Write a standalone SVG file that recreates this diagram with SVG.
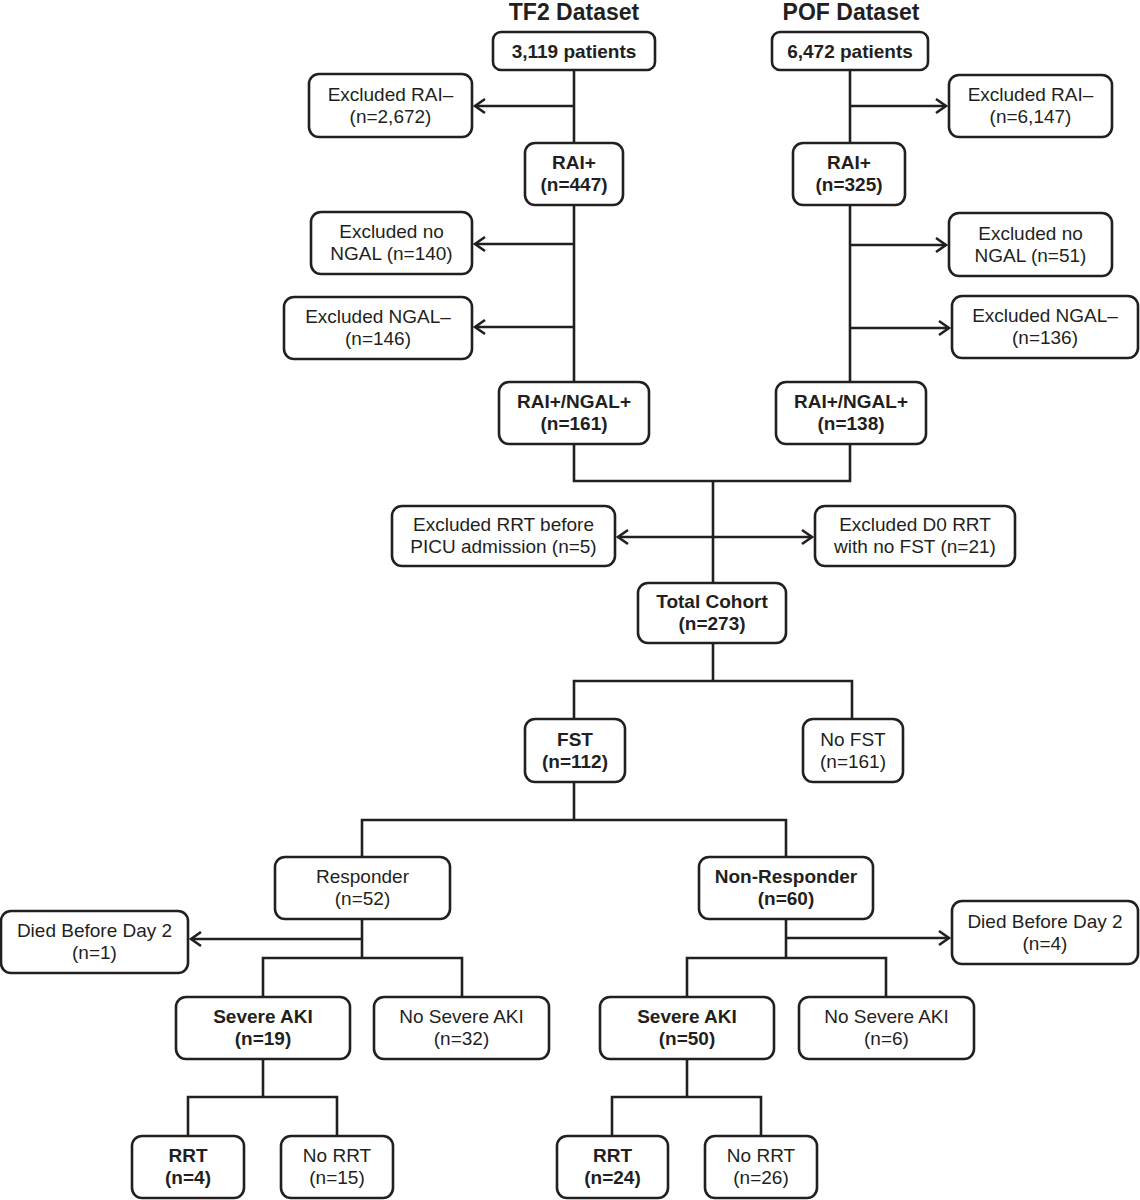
<svg xmlns="http://www.w3.org/2000/svg" width="1140" height="1200" viewBox="0 0 1140 1200">
<defs>
<marker id="arr" markerUnits="userSpaceOnUse" markerWidth="20" markerHeight="20" viewBox="-12 -10 14 20" refX="0" refY="0" orient="auto">
<path d="M-10,-7 L0,0 L-10,7" fill="none" stroke="#231f20" stroke-width="2.6" stroke-linejoin="miter"/>
</marker>
</defs>
<style>
rect{fill:#fff;stroke:#231f20;stroke-width:2.6}
text{font-family:"Liberation Sans",Arial,sans-serif;font-size:19px;fill:#231f20;text-anchor:middle}
.b{font-weight:bold}
.t{font-weight:bold;font-size:23px}
#connectors path,#connectors line{fill:none;stroke:#231f20;stroke-width:2.6}
</style>
<rect x="0" y="0" width="1140" height="1200" style="fill:#fff;stroke:none"/>
<g id="connectors">
<line x1="574" y1="70" x2="574" y2="143"/>
<line x1="574" y1="106" x2="475" y2="106" marker-end="url(#arr)"/>
<line x1="574" y1="205" x2="574" y2="382"/>
<line x1="574" y1="244" x2="475" y2="244" marker-end="url(#arr)"/>
<line x1="574" y1="327" x2="475" y2="327" marker-end="url(#arr)"/>
<line x1="850" y1="70" x2="850" y2="143"/>
<line x1="850" y1="106" x2="946" y2="106" marker-end="url(#arr)"/>
<line x1="850" y1="205" x2="850" y2="382"/>
<line x1="850" y1="245" x2="946" y2="245" marker-end="url(#arr)"/>
<line x1="850" y1="328" x2="949" y2="328" marker-end="url(#arr)"/>
<path d="M574,444 V481 H850 V444"/>
<line x1="713" y1="481" x2="713" y2="583"/>
<line x1="713" y1="537" x2="618" y2="537" marker-end="url(#arr)"/>
<line x1="713" y1="537" x2="812" y2="537" marker-end="url(#arr)"/>
<line x1="713" y1="643" x2="713" y2="681"/>
<path d="M574,719 V681 H852 V719"/>
<line x1="574" y1="782" x2="574" y2="820"/>
<path d="M362,857 V820 H786 V857"/>
<line x1="362" y1="919" x2="362" y2="958"/>
<line x1="362" y1="939" x2="191" y2="939" marker-end="url(#arr)"/>
<path d="M263,997 V958 H462 V997"/>
<line x1="786" y1="919" x2="786" y2="958"/>
<line x1="786" y1="938" x2="949" y2="938" marker-end="url(#arr)"/>
<path d="M687,997 V958 H886 V997"/>
<line x1="263" y1="1059" x2="263" y2="1097"/>
<path d="M188,1136 V1097 H337 V1136"/>
<line x1="687" y1="1059" x2="687" y2="1097"/>
<path d="M612,1136 V1097 H761 V1136"/>
</g>
<g id="title-tf2"><text class="t" x="574" y="20">TF2 Dataset</text></g>
<g id="title-pof"><text class="t" x="851" y="20">POF Dataset</text></g>
<g id="tf2-total"><rect x="493" y="32" width="162" height="38" rx="8"/><text class="b" x="574" y="58">3,119 patients</text></g>
<g id="pof-total"><rect x="772" y="32" width="156" height="38" rx="8"/><text class="b" x="850" y="58">6,472 patients</text></g>
<g id="tf2-excl-rai"><rect x="309" y="74" width="163" height="63" rx="10"/><text x="390.5" y="101">Excluded RAI–</text><text x="390.5" y="123">(n=2,672)</text></g>
<g id="pof-excl-rai"><rect x="949" y="75" width="163" height="62" rx="10"/><text x="1030.5" y="101">Excluded RAI–</text><text x="1030.5" y="123">(n=6,147)</text></g>
<g id="tf2-rai"><rect x="525" y="143" width="98" height="62" rx="10"/><text class="b" x="574" y="169">RAI+</text><text class="b" x="574" y="191">(n=447)</text></g>
<g id="pof-rai"><rect x="793" y="143" width="112" height="62" rx="10"/><text class="b" x="849" y="169">RAI+</text><text class="b" x="849" y="191">(n=325)</text></g>
<g id="tf2-excl-nongal"><rect x="311" y="212" width="161" height="62" rx="10"/><text x="391.5" y="238">Excluded no</text><text x="391.5" y="260">NGAL (n=140)</text></g>
<g id="pof-excl-nongal"><rect x="949" y="213" width="163" height="63" rx="10"/><text x="1030.5" y="240">Excluded no</text><text x="1030.5" y="262">NGAL (n=51)</text></g>
<g id="tf2-excl-ngalneg"><rect x="284" y="297" width="188" height="62" rx="10"/><text x="378" y="323">Excluded NGAL–</text><text x="378" y="345">(n=146)</text></g>
<g id="pof-excl-ngalneg"><rect x="952" y="296" width="186" height="62" rx="10"/><text x="1045" y="322">Excluded NGAL–</text><text x="1045" y="344">(n=136)</text></g>
<g id="tf2-ngal"><rect x="499" y="382" width="150" height="62" rx="10"/><text class="b" x="574" y="408">RAI+/NGAL+</text><text class="b" x="574" y="430">(n=161)</text></g>
<g id="pof-ngal"><rect x="776" y="382" width="150" height="62" rx="10"/><text class="b" x="851" y="408">RAI+/NGAL+</text><text class="b" x="851" y="430">(n=138)</text></g>
<g id="excl-rrt"><rect x="392" y="506" width="223" height="60" rx="10"/><text x="503.5" y="531">Excluded RRT before</text><text x="503.5" y="553">PICU admission (n=5)</text></g>
<g id="excl-d0"><rect x="815" y="506" width="200" height="60" rx="10"/><text x="915" y="531">Excluded D0 RRT</text><text x="915" y="553">with no FST (n=21)</text></g>
<g id="total"><rect x="638" y="583" width="148" height="60" rx="10"/><text class="b" x="712" y="608">Total Cohort</text><text class="b" x="712" y="630">(n=273)</text></g>
<g id="fst"><rect x="525" y="719" width="100" height="63" rx="10"/><text class="b" x="575" y="746">FST</text><text class="b" x="575" y="768">(n=112)</text></g>
<g id="nofst"><rect x="803" y="719" width="100" height="63" rx="10"/><text x="853" y="746">No FST</text><text x="853" y="768">(n=161)</text></g>
<g id="responder"><rect x="275" y="857" width="175" height="62" rx="10"/><text x="362.5" y="883">Responder</text><text x="362.5" y="905">(n=52)</text></g>
<g id="nonresponder"><rect x="699" y="857" width="174" height="62" rx="10"/><text class="b" x="786" y="883">Non-Responder</text><text class="b" x="786" y="905">(n=60)</text></g>
<g id="died-l"><rect x="1" y="911" width="187" height="62" rx="10"/><text x="94.5" y="937">Died Before Day 2</text><text x="94.5" y="959">(n=1)</text></g>
<g id="died-r"><rect x="952" y="901" width="186" height="63" rx="10"/><text x="1045" y="928">Died Before Day 2</text><text x="1045" y="950">(n=4)</text></g>
<g id="sev-l"><rect x="176" y="997" width="174" height="62" rx="10"/><text class="b" x="263" y="1023">Severe AKI</text><text class="b" x="263" y="1045">(n=19)</text></g>
<g id="nosev-l"><rect x="374" y="997" width="175" height="62" rx="10"/><text x="461.5" y="1023">No Severe AKI</text><text x="461.5" y="1045">(n=32)</text></g>
<g id="sev-r"><rect x="600" y="997" width="174" height="62" rx="10"/><text class="b" x="687" y="1023">Severe AKI</text><text class="b" x="687" y="1045">(n=50)</text></g>
<g id="nosev-r"><rect x="799" y="997" width="175" height="62" rx="10"/><text x="886.5" y="1023">No Severe AKI</text><text x="886.5" y="1045">(n=6)</text></g>
<g id="rrt-l"><rect x="132" y="1136" width="112" height="62" rx="10"/><text class="b" x="188" y="1162">RRT</text><text class="b" x="188" y="1184">(n=4)</text></g>
<g id="norrt-l"><rect x="281" y="1136" width="112" height="62" rx="10"/><text x="337" y="1162">No RRT</text><text x="337" y="1184">(n=15)</text></g>
<g id="rrt-r"><rect x="557" y="1136" width="111" height="62" rx="10"/><text class="b" x="612.5" y="1162">RRT</text><text class="b" x="612.5" y="1184">(n=24)</text></g>
<g id="norrt-r"><rect x="705" y="1136" width="112" height="62" rx="10"/><text x="761" y="1162">No RRT</text><text x="761" y="1184">(n=26)</text></g>
</svg>
